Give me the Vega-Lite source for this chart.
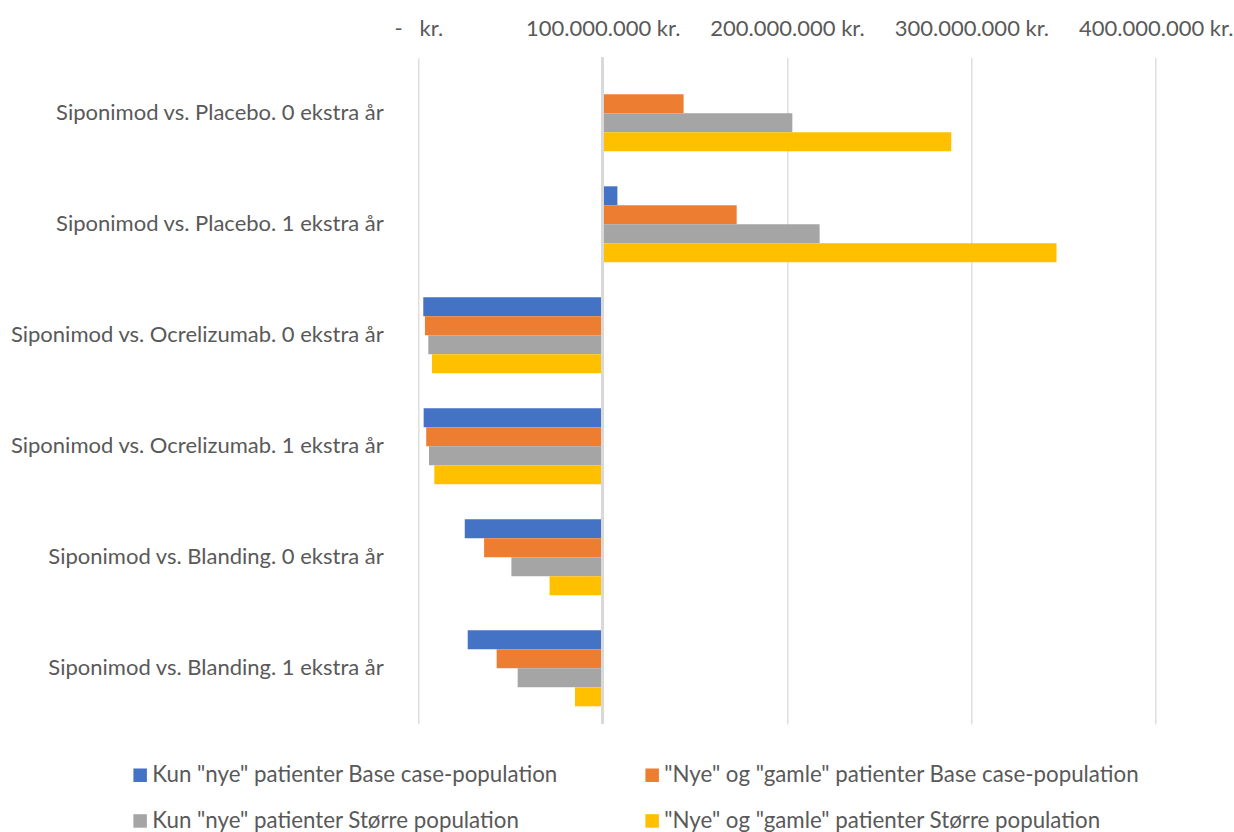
{
  "$schema": "https://vega.github.io/schema/vega-lite/v6.json",
  "width": 737.4,
  "height": 666,
  "autosize": {"type": "none"},
  "padding": {"left": 418.3, "top": 57.8, "right": 78.3, "bottom": 108.2},
  "background": "#ffffff",
  "config": {
    "view": {"stroke": null},
    "font": "Lato",
    "text": {"font": "Lato"}
  },
  "data": {
    "values": [
      {"comparison": "Siponimod vs. Placebo. 0 ekstra år", "series": "Kun \"nye\" patienter Base case-population", "value": 100000000},
      {"comparison": "Siponimod vs. Placebo. 0 ekstra år", "series": "\"Nye\" og \"gamle\" patienter Base case-population", "value": 143900000},
      {"comparison": "Siponimod vs. Placebo. 0 ekstra år", "series": "Kun \"nye\" patienter Større population", "value": 202900000},
      {"comparison": "Siponimod vs. Placebo. 0 ekstra år", "series": "\"Nye\" og \"gamle\" patienter Større population", "value": 289100000},
      {"comparison": "Siponimod vs. Placebo. 1 ekstra år", "series": "Kun \"nye\" patienter Base case-population", "value": 108000000},
      {"comparison": "Siponimod vs. Placebo. 1 ekstra år", "series": "\"Nye\" og \"gamle\" patienter Base case-population", "value": 172700000},
      {"comparison": "Siponimod vs. Placebo. 1 ekstra år", "series": "Kun \"nye\" patienter Større population", "value": 217700000},
      {"comparison": "Siponimod vs. Placebo. 1 ekstra år", "series": "\"Nye\" og \"gamle\" patienter Større population", "value": 346200000},
      {"comparison": "Siponimod vs. Ocrelizumab. 0 ekstra år", "series": "Kun \"nye\" patienter Base case-population", "value": 2700000},
      {"comparison": "Siponimod vs. Ocrelizumab. 0 ekstra år", "series": "\"Nye\" og \"gamle\" patienter Base case-population", "value": 3600000},
      {"comparison": "Siponimod vs. Ocrelizumab. 0 ekstra år", "series": "Kun \"nye\" patienter Større population", "value": 5400000},
      {"comparison": "Siponimod vs. Ocrelizumab. 0 ekstra år", "series": "\"Nye\" og \"gamle\" patienter Større population", "value": 7400000},
      {"comparison": "Siponimod vs. Ocrelizumab. 1 ekstra år", "series": "Kun \"nye\" patienter Base case-population", "value": 2900000},
      {"comparison": "Siponimod vs. Ocrelizumab. 1 ekstra år", "series": "\"Nye\" og \"gamle\" patienter Base case-population", "value": 4300000},
      {"comparison": "Siponimod vs. Ocrelizumab. 1 ekstra år", "series": "Kun \"nye\" patienter Større population", "value": 5800000},
      {"comparison": "Siponimod vs. Ocrelizumab. 1 ekstra år", "series": "\"Nye\" og \"gamle\" patienter Større population", "value": 8700000},
      {"comparison": "Siponimod vs. Blanding. 0 ekstra år", "series": "Kun \"nye\" patienter Base case-population", "value": 25200000},
      {"comparison": "Siponimod vs. Blanding. 0 ekstra år", "series": "\"Nye\" og \"gamle\" patienter Base case-population", "value": 35700000},
      {"comparison": "Siponimod vs. Blanding. 0 ekstra år", "series": "Kun \"nye\" patienter Større population", "value": 50500000},
      {"comparison": "Siponimod vs. Blanding. 0 ekstra år", "series": "\"Nye\" og \"gamle\" patienter Større population", "value": 71200000},
      {"comparison": "Siponimod vs. Blanding. 1 ekstra år", "series": "Kun \"nye\" patienter Base case-population", "value": 26800000},
      {"comparison": "Siponimod vs. Blanding. 1 ekstra år", "series": "\"Nye\" og \"gamle\" patienter Base case-population", "value": 42500000},
      {"comparison": "Siponimod vs. Blanding. 1 ekstra år", "series": "Kun \"nye\" patienter Større population", "value": 53900000},
      {"comparison": "Siponimod vs. Blanding. 1 ekstra år", "series": "\"Nye\" og \"gamle\" patienter Større population", "value": 85000000}
    ]
  },
  "layer": [
    {
      "mark": {"type": "bar"},
      "encoding": {
        "y": {
          "field": "comparison",
          "type": "nominal",
          "sort": null,
          "scale": {"paddingInner": 0.3153, "paddingOuter": 0.1577},
          "axis": {
            "title": null,
            "domain": false,
            "ticks": false,
            "tickSize": 0,
            "labelPadding": 35,
            "labelFontSize": 22,
            "labelColor": "#595959",
            "labelLimit": 0
          }
        },
        "yOffset": {
          "field": "series",
          "type": "nominal",
          "sort": [
            "Kun \"nye\" patienter Base case-population",
            "\"Nye\" og \"gamle\" patienter Base case-population",
            "Kun \"nye\" patienter Større population",
            "\"Nye\" og \"gamle\" patienter Større population"
          ],
          "scale": {"paddingInner": 0, "paddingOuter": 0}
        },
        "x": {
          "field": "value",
          "type": "quantitative",
          "scale": {"domain": [0, 400000000], "nice": false, "zero": false},
          "axis": {
            "orient": "top",
            "title": null,
            "values": [0, 100000000, 200000000, 300000000, 400000000],
            "domain": false,
            "ticks": false,
            "tickSize": 0,
            "grid": true,
            "gridColor": "#d9d9d9",
            "gridWidth": 1.3,
            "labelPadding": 22.8,
            "labelBaseline": "alphabetic",
            "labelFontSize": 22,
            "labelColor": "#595959",
            "labelFlush": false,
            "labelOverlap": false,
            "labelExpr": "datum.value === 0 ? '-\u00a0\u00a0\u00a0kr.' : replace(format(datum.value, ','), regexp(',', 'g'), '.') + ' kr.'"
          }
        },
        "x2": {"datum": 100000000},
        "color": {
          "field": "series",
          "type": "nominal",
          "scale": {
            "domain": [
              "Kun \"nye\" patienter Base case-population",
              "\"Nye\" og \"gamle\" patienter Base case-population",
              "Kun \"nye\" patienter Større population",
              "\"Nye\" og \"gamle\" patienter Større population"
            ],
            "range": ["#4472C4", "#ED7D31", "#A5A5A5", "#FFC000"]
          },
          "legend": {
            "title": null,
            "orient": "none",
            "legendX": -289.3,
            "legendY": 706,
            "direction": "horizontal",
            "columns": 2,
            "columnPadding": 83,
            "rowPadding": 23,
            "padding": 0,
            "symbolType": "square",
            "symbolSize": 182,
            "symbolStrokeWidth": 0,
            "labelOffset": 1,
            "labelFontSize": 22.3,
            "labelColor": "#595959",
            "labelLimit": 0
          }
        }
      }
    },
    {
      "mark": {"type": "rule", "color": "#d9d9d9", "strokeWidth": 2.5},
      "encoding": {"x": {"datum": 100000000}}
    }
  ]
}
